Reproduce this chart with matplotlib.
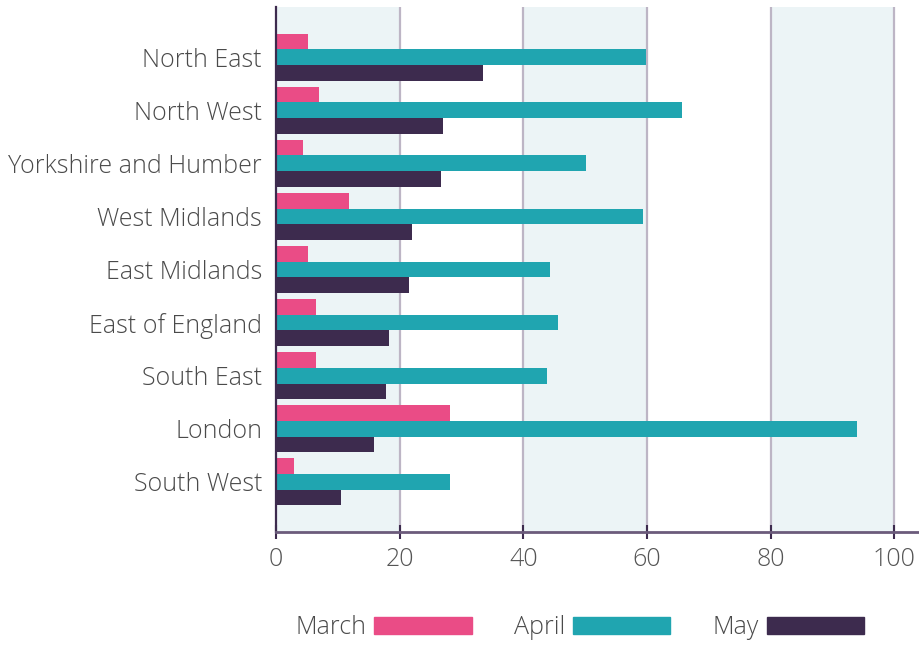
import numpy as np
import matplotlib.pyplot as plt
from matplotlib.patches import Patch

regions = ["North East", "North West", "Yorkshire and Humber", "West Midlands",
           "East Midlands", "East of England", "South East", "London", "South West"]
march = [5.2, 6.9, 4.4, 11.8, 5.2, 6.5, 6.5, 28.1, 2.9]
april = [59.8, 65.6, 50.2, 59.3, 44.3, 45.6, 43.9, 94.0, 28.1]
may = [33.4, 27.0, 26.7, 22.0, 21.5, 18.3, 17.8, 15.8, 10.5]

series = ["March", "April", "May"]
colors = ["#ea4c86", "#20a5b0", "#3d2b4e"]

plt.rcParams['font.family'] = ['Open Sans', 'DejaVu Sans']
FS = 18
TXT = "#4a4a4a"

fig = plt.figure(figsize=(9.19, 6.45), dpi=100)
ax = fig.add_axes([276 / 919, 1 - 532 / 645, 1 - 276 / 919, (532 - 7) / 645])

# alternating background bands
for x0 in [0, 40, 80]:
    ax.axvspan(x0, x0 + 20, color="#ecf4f6", zorder=0, lw=0)
for xg in [20, 40, 60, 80, 100]:
    ax.axvline(xg, color="#bdb5c5", lw=1.6, zorder=1)

y = np.arange(len(regions))
h = 0.3
for i, (vals, c) in enumerate(zip([march, april, may], colors)):
    ax.barh(y + (i - 1) * h, vals, height=h, color=c, zorder=2, label=series[i])

ax.set_ylim(len(regions) - 1 + 0.95, -0.95)
ax.set_xlim(0, 104)
ax.set_yticks(y)
ax.set_yticklabels(regions)
ax.set_xticks([0, 20, 40, 60, 80, 100])

for s in ["top", "right"]:
    ax.spines[s].set_visible(False)
ax.spines["left"].set_color("#3d2b4e")
ax.spines["left"].set_linewidth(1.6)
ax.spines["bottom"].set_color("#6b5b7b")
ax.spines["bottom"].set_linewidth(2)
ax.tick_params(axis="y", length=0, pad=10, labelsize=FS, labelcolor=TXT)
ax.tick_params(axis="x", length=10, width=1.5, color="#3d2b4e", pad=6,
               labelsize=FS, labelcolor="#555555")
ax.tick_params(axis="x", direction="inout")
for lab in ax.get_xticklabels() + ax.get_yticklabels():
    lab.set_fontweight("light")

handles = [Patch(color=c) for c in colors]
leg = fig.legend(handles, series, loc="center", bbox_to_anchor=(580 / 919, 1 - 628 / 645),
                 ncol=3, frameon=False, markerfirst=False, fontsize=FS,
                 handlelength=3.9, handleheight=0.68, handletextpad=0.3,
                 columnspacing=1.7)
for t in leg.get_texts():
    t.set_color(TXT)
    t.set_fontweight("light")

fig.savefig("out.png", dpi=100)
